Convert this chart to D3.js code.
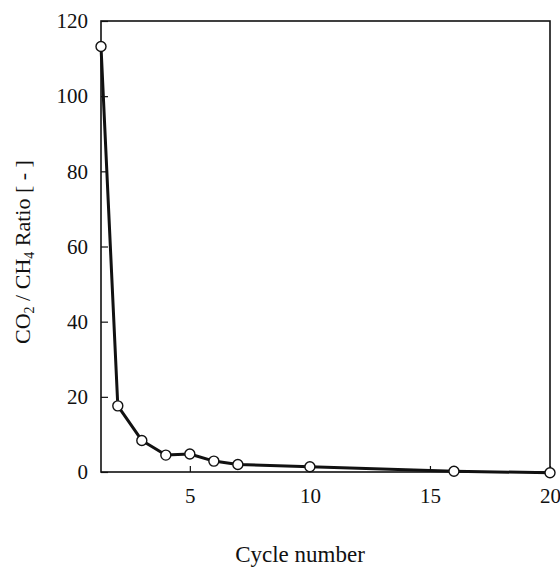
<!DOCTYPE html>
<html>
<head>
<meta charset="utf-8">
<script src="https://cdn.jsdelivr.net/npm/d3@7"></script>
<style>
  body { margin: 0; background: #fff; }
  text { font-family: "Liberation Serif", "DejaVu Serif", serif; fill: #111; }
</style>
</head>
<body>
<svg id="svg1" width="560" height="569"></svg>
<script>
// data
const cycles = [1.3, 2, 3, 4, 5, 6, 7, 10, 16, 20];
const ratios = [113.2, 17.6, 8.4, 4.5, 4.8, 2.9, 2.0, 1.4, 0.2, -0.2];
const xTicks = [5, 10, 15, 20];
const yTicks = [0, 20, 40, 60, 80, 100, 120];

const svg = d3.select('#svg1');

const x = d3.scaleLinear().domain([1.3, 20]).range([101, 550]);
const y = d3.scaleLinear().domain([0, 120]).range([472, 21]);

const points = cycles.map((c, i) => ({c: c, r: ratios[i]}));

// frame
svg.append('rect')
    .attr('x', x.range()[0])
    .attr('y', y.range()[1])
    .attr('width', x.range()[1] - x.range()[0])
    .attr('height', y.range()[0] - y.range()[1])
    .attr('fill', 'none')
    .attr('stroke', '#111')
    .attr('stroke-width', 1.6);

// inward ticks
const xAxis = svg.append('g')
    .attr('transform', `translate(0,${y.range()[0]})`)
    .call(d3.axisBottom(x).tickValues(xTicks).tickSize(-6).tickPadding(16));
const yAxis = svg.append('g')
    .attr('transform', `translate(${x.range()[0]},0)`)
    .call(d3.axisLeft(y).tickValues(yTicks).tickSize(-7).tickPadding(13));

[xAxis, yAxis].forEach(a => {
  a.attr('font-family', 'Liberation Serif').attr('font-size', 21);
  a.select('.domain').remove();
  a.selectAll('line').attr('stroke', '#111').attr('stroke-width', 1.2);
  a.selectAll('text').attr('fill', '#111');
});

// line + markers
const line = d3.line().x(d => x(d.c)).y(d => y(d.r));
svg.append('path')
    .datum(points)
    .attr('d', line)
    .attr('fill', 'none')
    .attr('stroke', '#111')
    .attr('stroke-width', 3)
    .attr('stroke-linejoin', 'round');

svg.selectAll('circle').data(points)
  .enter().append('circle')
    .attr('cx', d => x(d.c))
    .attr('cy', d => y(d.r))
    .attr('r', 5)
    .attr('fill', '#fff')
    .attr('stroke', '#111')
    .attr('stroke-width', 1.4);

// axis titles
svg.append('text')
    .attr('x', 300)
    .attr('y', 562)
    .attr('text-anchor', 'middle')
    .style('font-size', '23px')
    .text('Cycle number');

const yt = svg.append('text')
    .attr('transform', 'translate(30,252) rotate(-90)')
    .attr('text-anchor', 'middle')
    .style('font-size', '22px');
yt.append('tspan').text('CO');
yt.append('tspan').attr('dy', 4).style('font-size', '14px').text('2');
yt.append('tspan').attr('dy', -4).text(' / CH');
yt.append('tspan').attr('dy', 4).style('font-size', '14px').text('4');
yt.append('tspan').attr('dy', -4).text(' Ratio [ - ]');
</script>
</body>
</html>
